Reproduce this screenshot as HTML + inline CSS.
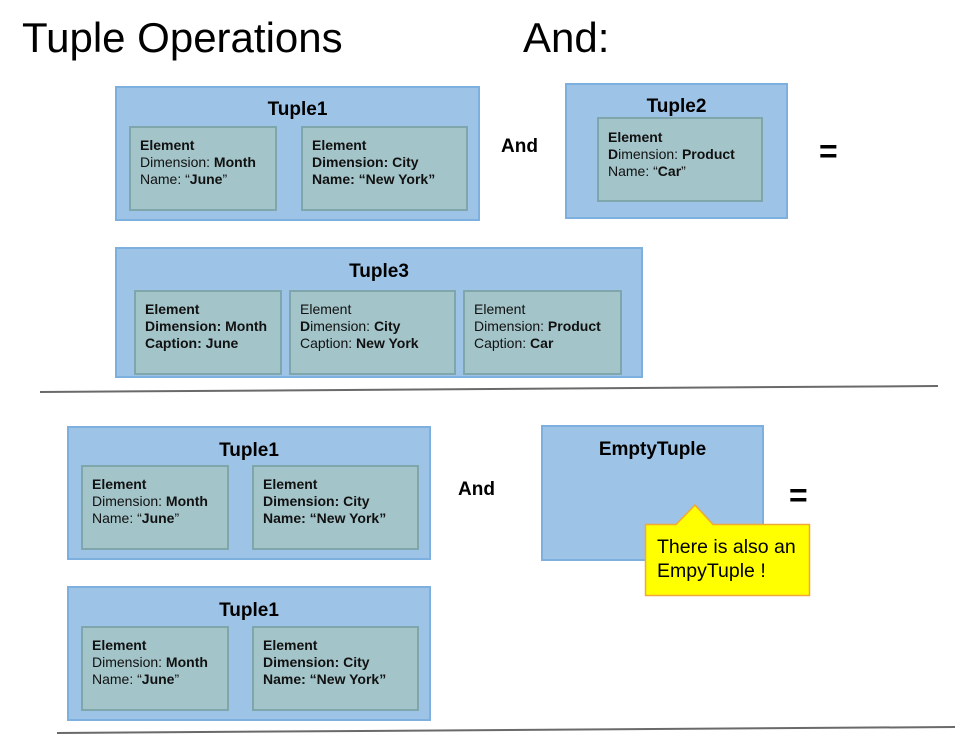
<!DOCTYPE html>
<html><head><meta charset="utf-8"><style>
body{margin:0;width:974px;height:750px;background:#fff;position:relative;overflow:hidden;font-family:"Liberation Sans",Arial,sans-serif;color:#000}
.a{position:absolute}
.t{background:#9dc3e6;border:2px solid #7eb0df;box-sizing:border-box}
.e{background:#a3c4c9;border:2px solid #7fa6ab;box-sizing:border-box;font-size:14px;line-height:17px;padding:9px 0 0 9px;color:#111}
.h{position:absolute;left:0;right:0;text-align:center;font-weight:bold;font-size:19px}
b{font-weight:bold}
</style></head><body>
<div class="a" style="left:22px;top:14px;font-size:42px;line-height:48px">Tuple Operations</div>
<div class="a" style="left:523px;top:14px;font-size:42px;line-height:48px">And:</div>

<div class="a t" style="left:115px;top:86px;width:365px;height:135px"><div class="h" style="top:11px">Tuple1</div></div>
<div class="a e" style="left:129px;top:126px;width:148px;height:85px"><b>Element</b><br>Dimension: <b>Month</b><br>Name: “<b>June</b>”</div>
<div class="a e" style="left:301px;top:126px;width:167px;height:85px"><b>Element<br>Dimension: City<br>Name: “New York”</b></div>
<div class="a" style="left:501px;top:136px;font-weight:bold;font-size:19px">And</div>
<div class="a t" style="left:565px;top:83px;width:223px;height:136px"><div class="h" style="top:11px">Tuple2</div></div>
<div class="a e" style="left:597px;top:117px;width:166px;height:85px;padding-top:10px"><b>Element</b><br><b>D</b>imension: <b>Product</b><br>Name: “<b>Car</b>”</div>
<div class="a" style="left:819px;top:133px;font-weight:bold;font-size:32px">=</div>

<div class="a t" style="left:115px;top:247px;width:528px;height:131px"><div class="h" style="top:12px">Tuple3</div></div>
<div class="a e" style="left:134px;top:290px;width:148px;height:85px"><b>Element<br>Dimension: Month<br>Caption: June</b></div>
<div class="a e" style="left:289px;top:290px;width:167px;height:85px">Element<br><b>D</b>imension: <b>City</b><br>Caption: <b>New York</b></div>
<div class="a e" style="left:463px;top:290px;width:159px;height:85px">Element<br>Dimension: <b>Product</b><br>Caption: <b>Car</b></div>

<svg class="a" style="left:0;top:0" width="974" height="750">
<line x1="40" y1="392" x2="938" y2="386" stroke="#6a6a6a" stroke-width="2"/>
<line x1="57" y1="733" x2="955" y2="727" stroke="#6a6a6a" stroke-width="2"/>
</svg>

<div class="a t" style="left:67px;top:426px;width:364px;height:134px"><div class="h" style="top:12px">Tuple1</div></div>
<div class="a e" style="left:81px;top:465px;width:148px;height:85px"><b>Element</b><br>Dimension: <b>Month</b><br>Name: “<b>June</b>”</div>
<div class="a e" style="left:252px;top:465px;width:167px;height:85px"><b>Element<br>Dimension: City<br>Name: “New York”</b></div>
<div class="a" style="left:458px;top:479px;font-weight:bold;font-size:19px">And</div>
<div class="a t" style="left:541px;top:425px;width:223px;height:136px"><div class="h" style="top:12px">EmptyTuple</div></div>
<div class="a" style="left:789px;top:477px;font-weight:bold;font-size:32px">=</div>

<svg class="a" style="left:0;top:0" width="974" height="750">
<polygon points="645.5,524.5 676,524.5 695,505 713,524.5 809.5,524.5 809.5,595.5 645.5,595.5" fill="#ffff00" stroke="#f0a838" stroke-width="1.5"/>
</svg>
<div class="a" style="left:657px;top:535px;font-size:19.5px;line-height:24px">There is also an<br>EmpyTuple !</div>

<div class="a t" style="left:67px;top:586px;width:364px;height:135px"><div class="h" style="top:12px">Tuple1</div></div>
<div class="a e" style="left:81px;top:626px;width:148px;height:85px"><b>Element</b><br>Dimension: <b>Month</b><br>Name: “<b>June</b>”</div>
<div class="a e" style="left:252px;top:626px;width:167px;height:85px"><b>Element<br>Dimension: City<br>Name: “New York”</b></div>
</body></html>
